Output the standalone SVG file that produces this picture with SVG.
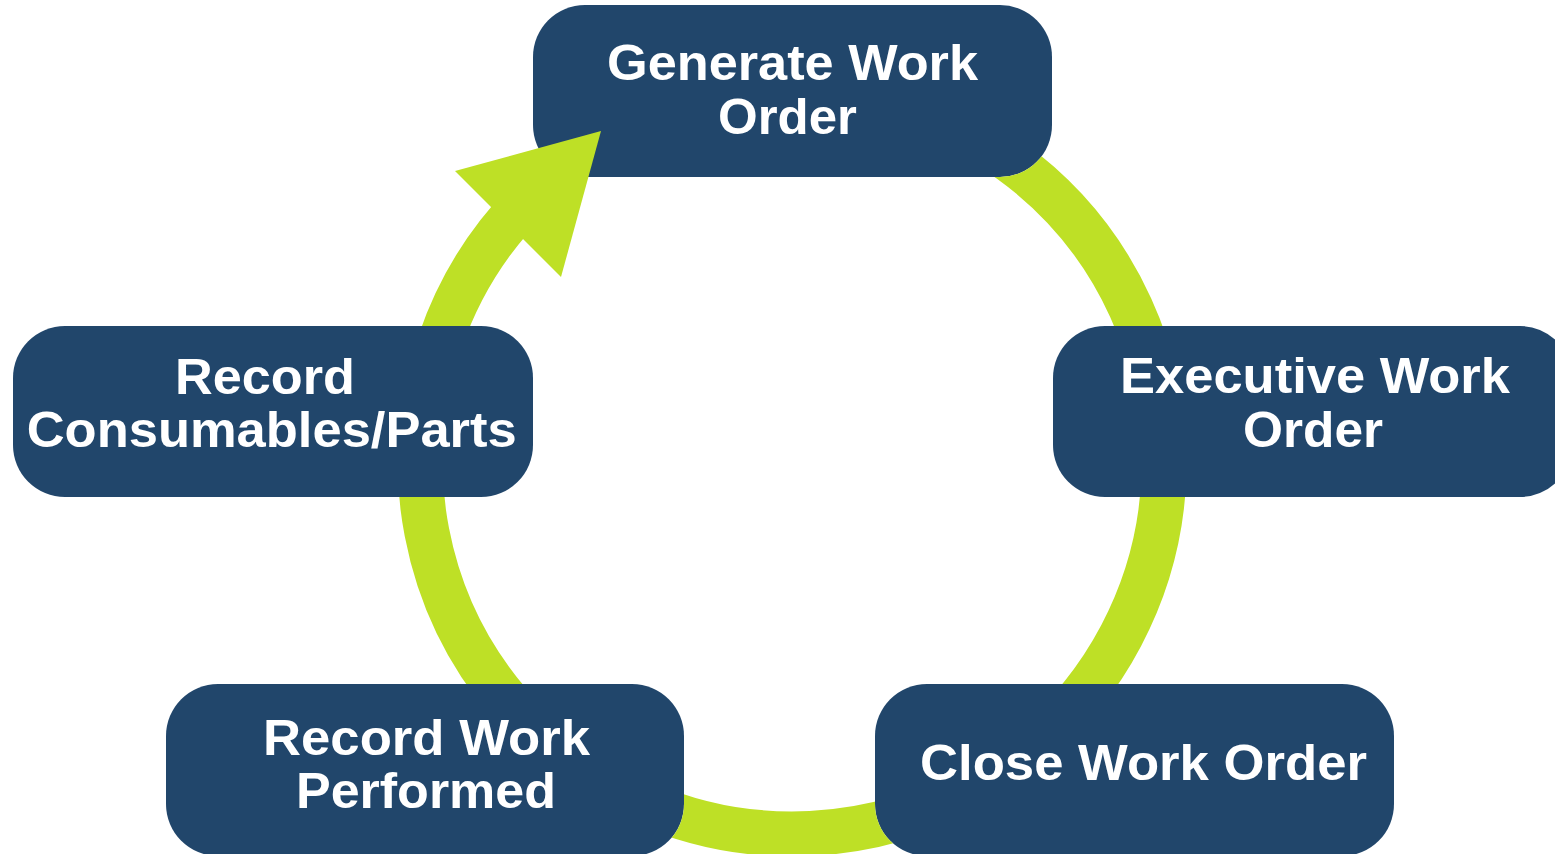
<svg xmlns="http://www.w3.org/2000/svg" width="1555" height="854" viewBox="0 0 1555 854">
  <style>
    .node { fill: #21466B; }
    .label { fill: #FFFFFF; font-family: "Liberation Sans", Arial, sans-serif; font-weight: bold; font-size: 50px; text-anchor: middle; }
    .ring { fill: none; stroke: #BEE026; stroke-width: 45; }
    .head { fill: #BEE026; }
  </style>
  <defs>
    <mask id="ringMask" maskUnits="userSpaceOnUse" x="0" y="0" width="1555" height="854">
      <rect x="0" y="0" width="1555" height="854" fill="#FFFFFF"/>
      <rect x="533" y="5" width="519" height="172" rx="52" fill="#000000"/>
      <rect x="1053" y="326" width="519" height="171" rx="52" fill="#000000"/>
      <rect x="875" y="684" width="519" height="172" rx="52" fill="#000000"/>
      <rect x="166" y="684" width="518" height="172" rx="52" fill="#000000"/>
      <rect x="13" y="326" width="520" height="171" rx="52" fill="#000000"/>
    </mask>
  </defs>
  <rect x="0" y="0" width="1555" height="854" fill="#FFFFFF"/>

  <g id="node-generate">
    <rect class="node" x="533" y="5" width="519" height="172" rx="52"/>
    <text class="label" x="792.5" y="80" textLength="371" lengthAdjust="spacingAndGlyphs">Generate Work</text>
    <text class="label" x="787.5" y="134" textLength="139" lengthAdjust="spacingAndGlyphs">Order</text>
  </g>
  <g id="node-executive">
    <rect class="node" x="1053" y="326" width="519" height="171" rx="52"/>
    <text class="label" x="1315" y="393" textLength="390" lengthAdjust="spacingAndGlyphs">Executive Work</text>
    <text class="label" x="1313" y="447" textLength="140" lengthAdjust="spacingAndGlyphs">Order</text>
  </g>
  <g id="node-close">
    <rect class="node" x="875" y="684" width="519" height="172" rx="52"/>
    <text class="label" x="1143.5" y="780" textLength="447" lengthAdjust="spacingAndGlyphs">Close Work Order</text>
  </g>
  <g id="node-record-work">
    <rect class="node" x="166" y="684" width="518" height="172" rx="52"/>
    <text class="label" x="426.5" y="755" textLength="327" lengthAdjust="spacingAndGlyphs">Record Work</text>
    <text class="label" x="426" y="808" textLength="260" lengthAdjust="spacingAndGlyphs">Performed</text>
  </g>
  <g id="node-record-consumables">
    <rect class="node" x="13" y="326" width="520" height="171" rx="52"/>
    <text class="label" x="265" y="394" textLength="180" lengthAdjust="spacingAndGlyphs">Record</text>
    <text class="label" x="271.7" y="447" textLength="490" lengthAdjust="spacingAndGlyphs">Consumables/Parts</text>
  </g>

  <g id="connectors">
    <path class="ring" mask="url(#ringMask)" d="M 664.8 112.4 A 372 372 0 1 1 529 199"/>
    <polygon class="head" points="455,171 601,131 561,277"/>
  </g>
</svg>
